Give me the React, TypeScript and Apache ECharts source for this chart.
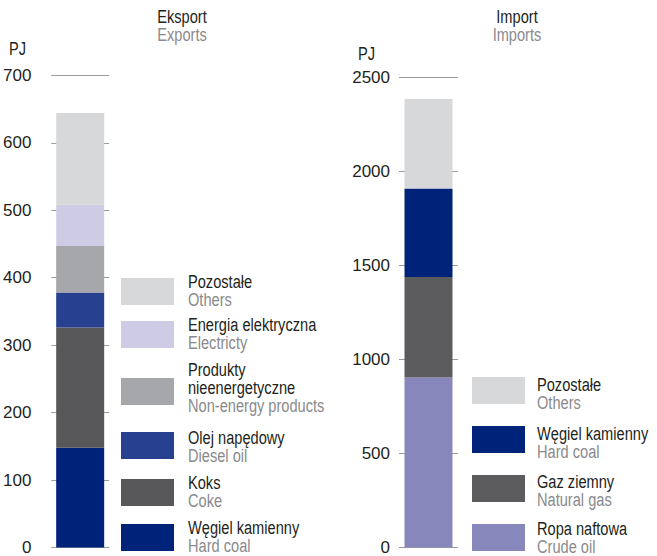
import React, { useEffect, useRef } from "react";
import * as echarts from "echarts";

// ---- data ----
const exportCategories = ["Eksport"];
const exportNamesPL = [["Węgiel kamienny"], ["Koks"], ["Olej napędowy"], ["Produkty", "nieenergetyczne"], ["Energia elektryczna"], ["Pozostałe"]];
const exportNamesEN = ["Hard coal", "Coke", "Diesel oil", "Non-energy products", "Electricty", "Others"];
const exportValues = [148, 178, 52, 69, 61, 136];
const exportColors = ["#00237a", "#58585a", "#27408f", "#a6a7aa", "#cecce4", "#d7d8da"];

const importCategories = ["Import"];
const importNamesPL = [["Ropa naftowa"], ["Gaz ziemny"], ["Węgiel kamienny"], ["Pozostałe"]];
const importNamesEN = ["Crude oil", "Natural gas", "Hard coal", "Others"];
const importValues = [904, 535, 471, 477];
const importColors = ["#8787bb", "#5c5c5e", "#00237a", "#d7d8da"];

const exportTicks = { min: 0, max: 700, interval: 100 };
const importTicks = { min: 0, max: 2500, interval: 500 };

const FONT = "'Liberation Sans', Arial, sans-serif";
const DARK = "#231f20";
const GREY = "#8a8a8c";
const SX = 0.86;
const SY = 1.08;

// ---- layout (positions only) ----
const exportLegendBoxTop = [524, 479, 432, 378, 321, 278];
const exportLegendTextY = [528, 483, 438, 370, 325, 282];
const importLegendBoxTop = [524, 475, 426, 377];
const importLegendTextY = [529, 482, 434, 385];

function txt(text: string, x: number, y: number, fill: string, align: string) {
  return {
    type: "text",
    x,
    y,
    scaleX: SX,
    scaleY: SY,
    style: { text, fill, fontSize: 17, fontFamily: FONT, lineHeight: 15, textAlign: align, textVerticalAlign: "middle" },
  };
}

function legendGraphics(namesPL: string[][], namesEN: string[], colors: string[], boxTop: number[], textY: number[], boxX: number, textX: number) {
  const els: any[] = [];
  namesPL.forEach((pl, i) => {
    els.push({ type: "rect", shape: { x: boxX, y: boxTop[i], width: 53, height: 27 }, style: { fill: colors[i] } });
    const lines = [...pl.map((t) => ({ t, c: DARK })), { t: namesEN[i], c: GREY }];
    lines.forEach((ln, j) => {
      els.push(txt(ln.t, textX, textY[i] + j * 18, ln.c, "left"));
    });
  });
  return els;
}

function titleGraphics(pl: string, en: string, cx: number, unitX: number, unitY: number) {
  return [txt(pl, cx, 17, DARK, "center"), txt(en, cx, 35, GREY, "center"), txt("PJ", unitX, unitY, DARK, "left")];
}

export default function App() {
  const ref = useRef<HTMLDivElement>(null);
  useEffect(() => {
    if (!ref.current) return;
    const chart = echarts.init(ref.current, null, { renderer: "svg" });
    const yAxisCommon = {
      type: "value" as const,
      axisLine: { show: false },
      axisTick: { show: false },
      splitLine: { show: true, lineStyle: { color: "#9a9a9a", width: 1 } },
      axisLabel: { color: DARK, fontSize: 17, fontFamily: FONT, formatter: (v: number) => String(v) },
    };
    const xAxisCommon = {
      type: "category" as const,
      axisLine: { show: false },
      axisTick: { show: false },
      axisLabel: { show: false },
    };
    const series: any[] = [];
    exportValues.forEach((v, i) => {
      series.push({
        type: "bar", name: exportNamesPL[i].join(" "), stack: "exp", xAxisIndex: 0, yAxisIndex: 0,
        barWidth: 48, data: [v], itemStyle: { color: exportColors[i] },
      });
    });
    importValues.forEach((v, i) => {
      series.push({
        type: "bar", name: importNamesPL[i].join(" "), stack: "imp", xAxisIndex: 1, yAxisIndex: 1,
        barWidth: 48, data: [v], itemStyle: { color: importColors[i] },
      });
    });
    chart.setOption({
      animation: false,
      grid: [
        { left: 49, width: 60, top: 75.3, height: 549 - 75.3 },
        { left: 399, width: 59, top: 77.7, height: 549 - 77.7 },
      ],
      xAxis: [
        { ...xAxisCommon, gridIndex: 0, data: exportCategories },
        { ...xAxisCommon, gridIndex: 1, data: importCategories },
      ],
      yAxis: [
        { ...yAxisCommon, gridIndex: 0, ...exportTicks, axisLabel: { ...yAxisCommon.axisLabel, margin: 20 } },
        { ...yAxisCommon, gridIndex: 1, ...importTicks, axisLabel: { ...yAxisCommon.axisLabel, margin: 9 } },
      ],
      series,
      graphic: [
        ...titleGraphics("Eksport", "Exports", 182, 9, 49),
        ...titleGraphics("Import", "Imports", 517, 358, 54),
        ...legendGraphics([...exportNamesPL].reverse(), [...exportNamesEN].reverse(), [...exportColors].reverse(), [...exportLegendBoxTop].reverse(), [...exportLegendTextY].reverse(), 121, 188),
        ...legendGraphics([...importNamesPL].reverse(), [...importNamesEN].reverse(), [...importColors].reverse(), [...importLegendBoxTop].reverse(), [...importLegendTextY].reverse(), 472, 537),
      ],
    });
    return () => chart.dispose();
  }, []);
  return <div ref={ref} style={{ position: "absolute", left: 0, top: 0, width: 657, height: 556 }} />;
}
